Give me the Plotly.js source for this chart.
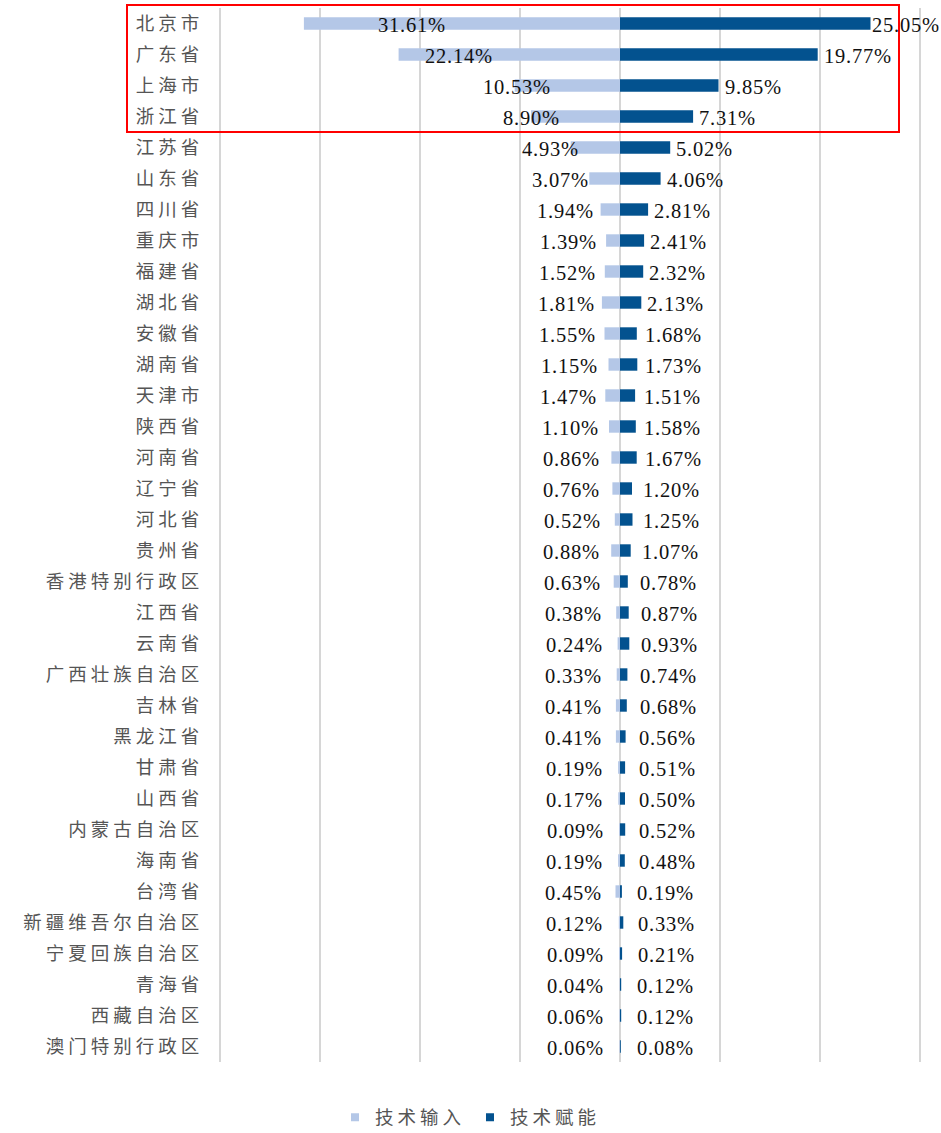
<!DOCTYPE html>
<html>
<head>
<meta charset="utf-8">
<script src="https://cdn.plot.ly/plotly-3.0.1.min.js"></script>
<style>
  html, body { margin: 0; padding: 0; background: #fff; }
  #chart { width: 941px; height: 1133px; }
  .ytick text { letter-spacing: 4px; }
  .annotation-text { letter-spacing: 0.8px; }
  .legendtext { letter-spacing: 4px; }
</style>
</head>
<body>
<div id="chart"></div>
<script>
const regions = ["北京市","广东省","上海市","浙江省","江苏省","山东省","四川省","重庆市","福建省","湖北省","安徽省","湖南省","天津市","陕西省","河南省","辽宁省","河北省","贵州省","香港特别行政区","江西省","云南省","广西壮族自治区","吉林省","黑龙江省","甘肃省","山西省","内蒙古自治区","海南省","台湾省","新疆维吾尔自治区","宁夏回族自治区","青海省","西藏自治区","澳门特别行政区"];
const techInput = [31.61,22.14,10.53,8.90,4.93,3.07,1.94,1.39,1.52,1.81,1.55,1.15,1.47,1.10,0.86,0.76,0.52,0.88,0.63,0.38,0.24,0.33,0.41,0.41,0.19,0.17,0.09,0.19,0.45,0.12,0.09,0.04,0.06,0.06];
const techEnable = [25.05,19.77,9.85,7.31,5.02,4.06,2.81,2.41,2.32,2.13,1.68,1.73,1.51,1.58,1.67,1.20,1.25,1.07,0.78,0.87,0.93,0.74,0.68,0.56,0.51,0.50,0.52,0.48,0.19,0.33,0.21,0.12,0.12,0.08];
const seriesNames = ["技术输入","技术赋能"];
const gridTicks = [-40,-30,-20,-10,0,10,20,30];
const highlightCount = 4;

const lightColor = "#B4C7E7";
const darkColor = "#03528F";
const numFont = {family: "Liberation Serif, Times New Roman, serif", size: 20.5, color: "#111111"};
const labelMaxX = 25.0;

const traces = [
  {
    type: "bar", orientation: "h", name: seriesNames[0], showlegend: false,
    y: regions, x: techInput.map(v => -v),
    marker: {color: lightColor}, width: 0.4, hoverinfo: "skip"
  },
  {
    type: "bar", orientation: "h", name: seriesNames[1], showlegend: false,
    y: regions, x: techEnable,
    marker: {color: darkColor}, width: 0.4, hoverinfo: "skip"
  },
  {
    type: "scatter", mode: "markers", name: seriesNames[0], x: [null], y: [null],
    marker: {symbol: "square", size: 8, color: lightColor}, hoverinfo: "skip"
  },
  {
    type: "scatter", mode: "markers", name: seriesNames[1], x: [null], y: [null],
    marker: {symbol: "square", size: 8, color: darkColor}, hoverinfo: "skip"
  }
];

const annotations = [];
regions.forEach((r, i) => {
  const a = techInput[i], b = techEnable[i];
  annotations.push({
    x: -(1.4 + a / 2), y: r, xref: "x", yref: "y",
    text: a.toFixed(2) + "%", showarrow: false, xanchor: "right", yanchor: "middle",
    font: numFont, yshift: -1
  });
  annotations.push({
    x: Math.min(Math.max(b + 0.4, 1.45 + b / 2), labelMaxX), y: r, xref: "x", yref: "y",
    text: b.toFixed(2) + "%", showarrow: false, xanchor: "left", yanchor: "middle",
    font: numFont, yshift: -1
  });
});

const n = regions.length;
const marginL = 217, marginR = 18;
const plotW = 941 - marginL - marginR;
const layout = {
  width: 941, height: 1133,
  margin: {l: marginL, r: marginR, t: 8, b: 71},
  paper_bgcolor: "#ffffff", plot_bgcolor: "#ffffff",
  barmode: "relative",
  showlegend: true,
  legend: {
    orientation: "h", xref: "container", yref: "container",
    x: 0.356, xanchor: "left", y: 0.0135, yanchor: "middle",
    font: {family: "Noto Sans CJK SC", size: 18.5, color: "#555555"},
    itemwidth: 30, entrywidth: 90, entrywidthmode: "pixels", tracegroupgap: 0
  },
  xaxis: {
    range: [-40.3, 30.3], tickvals: gridTicks, showticklabels: false,
    showgrid: true, gridcolor: "#d6d6d6", gridwidth: 1.5,
    zeroline: false, showline: false, fixedrange: true
  },
  yaxis: {
    type: "category", autorange: "reversed", categoryorder: "array", categoryarray: regions,
    showgrid: false, zeroline: false, showline: false,
    ticks: "outside", ticklen: 9, tickcolor: "rgba(0,0,0,0)",
    tickfont: {family: "Noto Sans CJK SC", size: 18.5, color: "#555555"},
    fixedrange: true
  },
  annotations: annotations,
  shapes: [{
    type: "rect", xref: "paper", yref: "paper",
    x0: (127 - marginL) / plotW, x1: (899 - marginL) / plotW,
    y0: 1 - (highlightCount) / n, y1: 1 + 0.1 / n,
    line: {color: "#ff0000", width: 2}, fillcolor: "rgba(0,0,0,0)"
  }]
};

Plotly.newPlot("chart", traces, layout, {displayModeBar: false, staticPlot: true});
</script>
</body>
</html>
